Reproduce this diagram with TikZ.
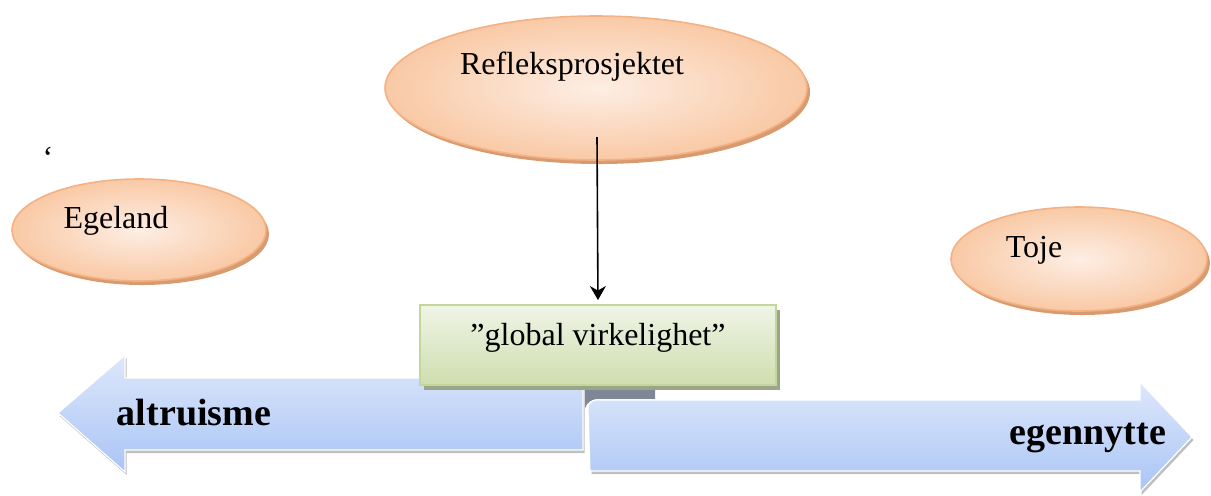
\documentclass[tikz,border=0pt]{standalone}
\usepackage{fontspec}
\setmainfont{Liberation Serif}
\usetikzlibrary{positioning,shapes.geometric,arrows.meta}
\definecolor{peachlight}{HTML}{FDEEE4}
\definecolor{peach}{HTML}{F9C9A5}
\definecolor{peachline}{HTML}{F4B183}
\definecolor{peachdark}{HTML}{D89B70}
\definecolor{boxlight}{HTML}{EFF4E6}
\definecolor{boxdark}{HTML}{CFDEAE}
\definecolor{boxline}{HTML}{C3D69B}
\definecolor{boxshadow}{HTML}{9DA589}
\definecolor{bluetop}{HTML}{DDE7FB}
\definecolor{bluebot}{HTML}{A9C5F5}
\definecolor{curlgray}{HTML}{7F8797}

\begin{document}
\begin{tikzpicture}[%
		x=0.5pt,y=-0.5pt,
		>={Stealth[length=7pt,width=8pt]},
		oval/.style={%
			ellipse,
			draw=peachline,
			line width=0.8pt,
			inner color=peachlight,
			outer color=peach,
			preaction={fill=peachdark, transform canvas={shift={(1.5pt,-2pt)}}}
		},
		ovaltext/.style={font=\fontsize{16}{19}\selectfont},
		boxnode/.style={%
			rectangle,
			draw=boxline,
			line width=1pt,
			top color=boxlight,
			bottom color=boxdark,
			minimum width=178pt,
			minimum height=40pt,
			text height=12pt,
			text depth=12pt,
			font=\fontsize{16}{19}\selectfont,
			preaction={fill=boxshadow, transform canvas={shift={(2pt,-2.5pt)}}}
		},
		bigarrow/.style={%
			top color=bluetop,
			bottom color=bluebot,
			draw=white,
			line width=0.6pt,
			preaction={fill=black!25, transform canvas={shift={(0.8pt,-1.5pt)}}}
		},
		arrowtext/.style={font=\bfseries\fontsize{19}{22}\selectfont}
		]
		\useasboundingbox (0,0) rectangle (1211,495);

		\shade[bigarrow] (583,378) -- (125,378) -- (125,355) -- (58,413) -- (125,472) -- (125,450) -- (583,450) -- cycle;
		\fill[curlgray] (585,386) -- (655,386) -- (655,399) -- (600,399) .. controls (592,399) and (587,402) .. (585,408) -- cycle;
		\shade[bigarrow] (590,471) -- (588,410) .. controls (588,402) and (592,399) .. (602,400) -- (1140,400) -- (1140,382) -- (1192,437) -- (1140,492) -- (1140,471) -- cycle;

		\node[arrowtext] (alt) at (194,413) {altruisme};
		\node[arrowtext] (ege) at (1088,438) {egennytte};

		\node[oval, minimum width=211pt, minimum height=72pt] (refl) at (596,88) {};
		\node[ovaltext] (refltxt) at ([shift={(-24,-21)}]refl.center) {Refleksprosjektet};

		\node[oval, minimum width=127pt, minimum height=51pt] (egel) at (139,230) {};
		\node[ovaltext] (egeltxt) at ([shift={(-23,-9)}]egel.center) {Egeland};

		\node[oval, minimum width=128pt, minimum height=52pt] (toje) at (1079,259) {};
		\node[ovaltext] (tojetxt) at ([shift={(-45,-9)}]toje.center) {Toje};

		\node[ovaltext] (tick) at (48,158) {‘};

		\node[boxnode] (glob) at (598,345) {”global virkelighet”};

		\coordinate (from) at (597,137);
		\draw[->, line width=0.8pt, shorten >=2pt] (from) -- (glob.north);
		\end{tikzpicture}
\end{document}
